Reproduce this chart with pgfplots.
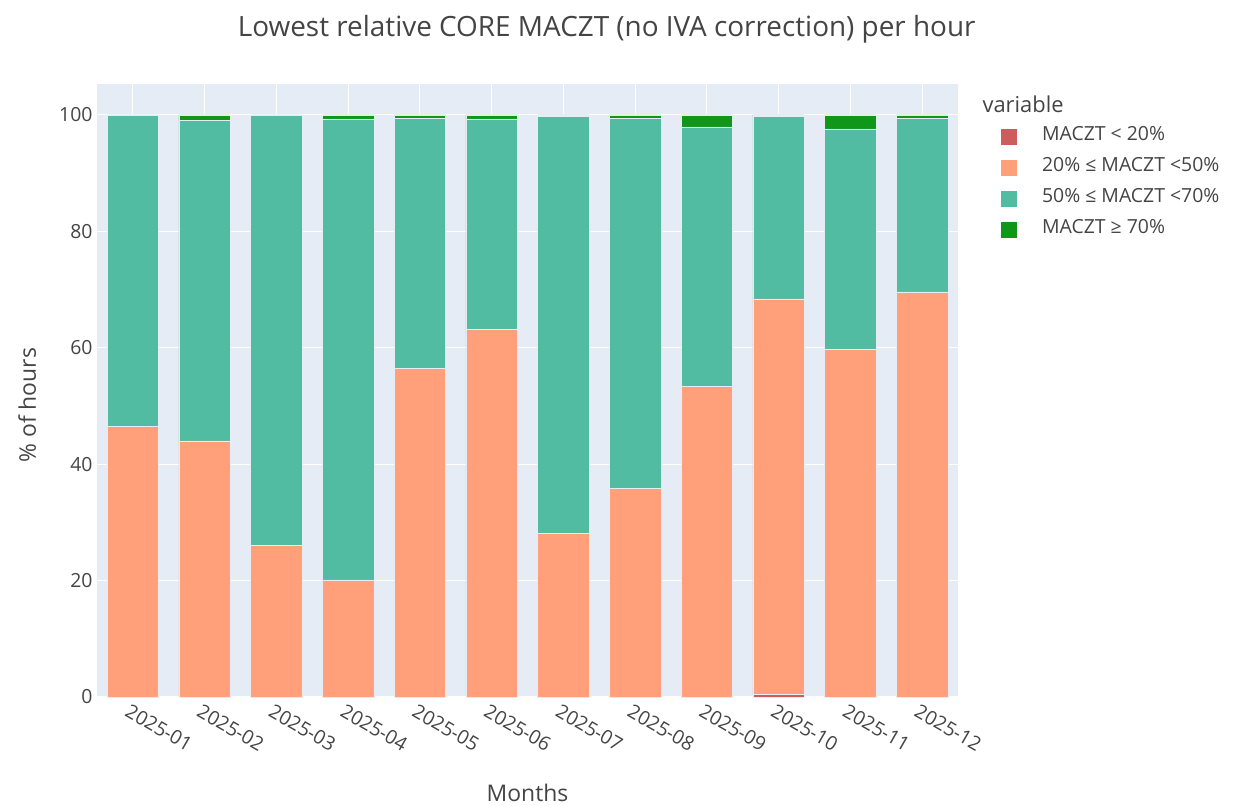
\documentclass[border=0pt]{standalone}
\usepackage{pgfplots}
\pgfplotsset{compat=1.18}
\usepackage{pgfplotstable}
\usepackage{fontspec}
\setmainfont{Open Sans}
\definecolor{bgc}{HTML}{E5ECF6}
\definecolor{cred}{HTML}{CD5C5C}
\definecolor{corange}{HTML}{FFA07A}
\definecolor{cteal}{HTML}{52BCA3}
\definecolor{cgreen}{HTML}{109618}
\definecolor{txt}{HTML}{444444}
\pgfplotstableread{
x red orange teal green
0 0 46.5 53.5 0
1 0 44.0 55.0 1.0
2 0 26.1 73.9 0
3 0 20.1 79.2 0.7
4 0 56.5 42.95 0.55
5 0 63.1 36.2 0.7
6 0 28.1 71.6 0.3
7 0 35.8 63.6 0.6
8 0 53.3 44.65 2.05
9 0.4 68.0 31.3 0.3
10 0 59.7 37.9 2.4
11 0 69.6 29.8 0.6
}\data
\begin{document}
\begin{tikzpicture}
\begin{axis}[
  scale only axis, width=861bp, height=613bp,
  ybar stacked, bar width=0.72,
  xmin=-0.5, xmax=11.5, ymin=0, ymax=105.3,
  axis background/.style={fill=bgc},
  axis line style={draw=none},
  major tick length=0pt,
  xtick={0,...,11},
  xticklabels={2025-01,2025-02,2025-03,2025-04,2025-05,2025-06,2025-07,2025-08,2025-09,2025-10,2025-11,2025-12},
  ytick={0,20,40,60,80,100},
  grid=major, grid style={white, line width=1bp},
  /pgf/number format/assume math mode=true,
  tick label style={font=\fontsize{19.5}{23}\selectfont, text=txt},
  x tick label style={rotate=-30, anchor=north west, xshift=-2bp, yshift=-3bp},
  y tick label style={xshift=-1bp},
  every axis plot/.append style={draw=bgc, line width=0.5bp},
  legend style={at={(1.050,0.9266)}, anchor=north west, draw=none, fill=none,
    inner sep=0pt, outer sep=0pt, row sep=15bp, column sep=25bp,
    font=\fontsize{19.5}{23}\selectfont, text=txt,
    nodes={inner sep=0pt, text height=12bp, text depth=4bp}},
  legend cell align=left,
  legend image code/.code={\fill[#1, draw=none] (0bp,-8bp) rectangle (16bp,8bp);},
  clip=false,
]
\addplot[fill=cred] table[x=x,y=red]{\data};
\addlegendentry{MACZT < 20\%}
\addplot[fill=corange] table[x=x,y=orange]{\data};
\addlegendentry{20\% ≤ MACZT <50\%}
\addplot[fill=cteal] table[x=x,y=teal]{\data};
\addlegendentry{50\% ≤ MACZT <70\%}
\addplot[fill=cgreen] table[x=x,y=green]{\data};
\addlegendentry{MACZT ≥ 70\%}
\node[anchor=west, text=txt, font=\fontsize{22}{26}\selectfont] at (rel axis cs:1.0244,0.967) {variable};
\node[text=txt, font=\fontsize{28}{32}\selectfont] at (rel axis cs:0.592,1.09) {Lowest relative CORE MACZT (no IVA correction) per hour};
\node[text=txt, font=\fontsize{23}{27}\selectfont] at (rel axis cs:0.5,-0.1566) {Months};
\node[text=txt, font=\fontsize{23}{27}\selectfont, rotate=90] at (rel axis cs:-0.081,0.476) {\% of hours};
\end{axis}
\path (current axis.south west) ++(-97bp,-108bp) rectangle ++(1234bp,805bp);
\end{tikzpicture}
\end{document}
